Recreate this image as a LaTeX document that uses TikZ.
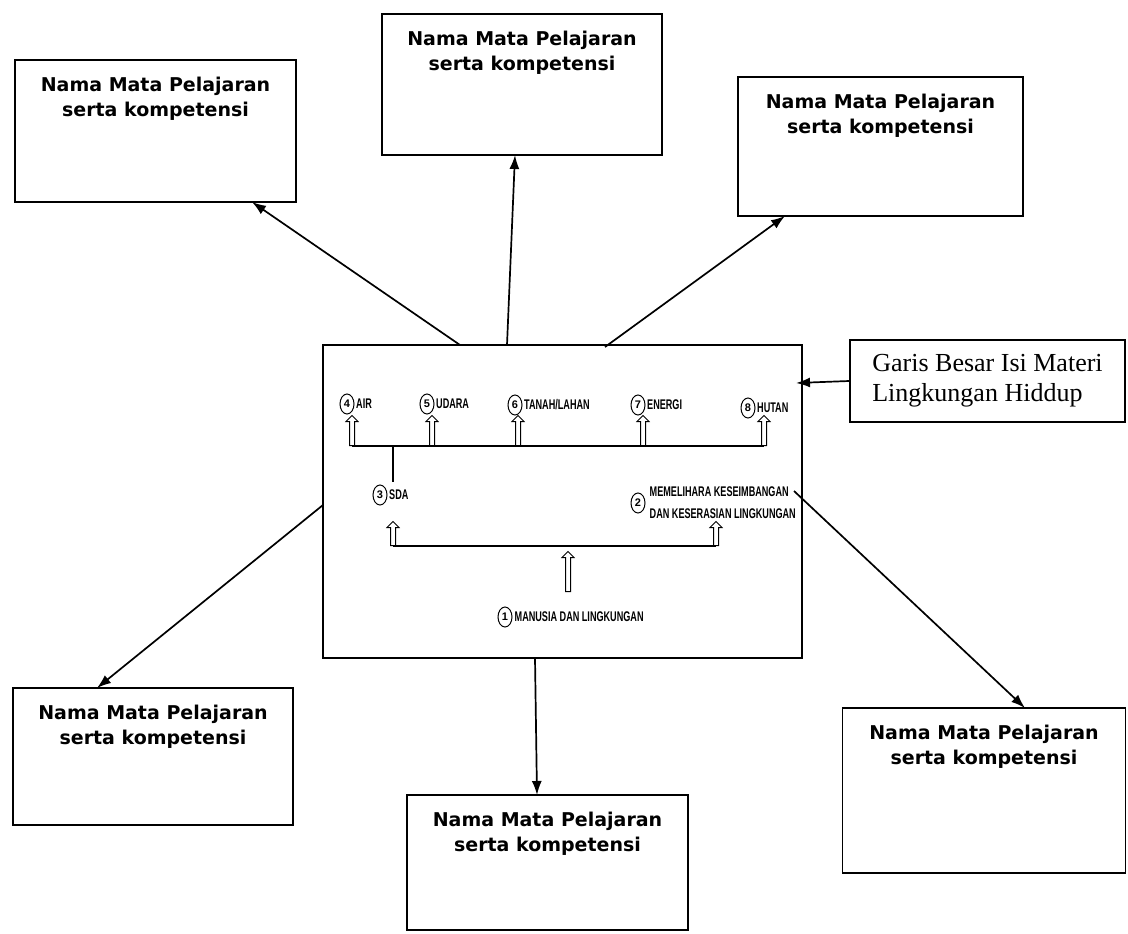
\documentclass[tikz,border=0pt]{standalone}
\usepackage{fontspec}
\setmainfont{Liberation Serif}
\newfontfamily\boxfont{DejaVu Sans}
\newfontfamily\lblfont{Liberation Sans}
\usetikzlibrary{arrows.meta,shapes.geometric,shapes.arrows,calc}
\newcommand{\cond}[1]{\scalebox{0.65}[1]{#1}}
\begin{document}
\begin{tikzpicture}[x=1pt,y=-1pt,
 mbox/.style={draw, line width=1.7pt, inner sep=0pt},
 ttl/.style={font=\boxfont\bfseries\fontsize{19}{25}\selectfont, align=center, anchor=north, inner sep=0pt},
 arr/.style={line width=1.7pt, -{Latex[length=14pt,width=10pt]}},
 num/.style={ellipse, draw, line width=1pt, inner sep=0.3pt, minimum width=14pt, minimum height=20pt, font=\lblfont\bfseries\fontsize{11}{11}\selectfont},
 lbl/.style={anchor=west, inner sep=0pt, font=\lblfont\bfseries\fontsize{14}{22}\selectfont, align=left},
 hol/.style={single arrow, draw, line width=1pt, shape border rotate=90, inner sep=2pt, single arrow head extend=3.5pt, anchor=tail},
 bus/.style={line width=1.6pt}
]
\useasboundingbox (0,0) rectangle (1128,934);
\fill[white] (0,0) rectangle (1128,934);

% outer boxes
\node[mbox, minimum width=281pt, minimum height=142pt] (tl) at (155.5,131) {};
\node[ttl] (tlt) at ($(tl.north)+(0,18)$) {Nama Mata Pelajaran\\serta kompetensi};
\node[mbox, minimum width=280pt, minimum height=141pt] (tc) at (522,84.5) {};
\node[ttl] (tct) at ($(tc.north)+(0,18)$) {Nama Mata Pelajaran\\serta kompetensi};
\node[mbox, minimum width=285pt, minimum height=139pt] (tr) at (880.5,146.5) {};
\node[ttl] (trt) at ($(tr.north)+(0,18)$) {Nama Mata Pelajaran\\serta kompetensi};
\node[mbox, minimum width=280pt, minimum height=137pt] (bl) at (153,756.5) {};
\node[ttl] (blt) at ($(bl.north)+(0,18)$) {Nama Mata Pelajaran\\serta kompetensi};
\node[mbox, minimum width=281pt, minimum height=135pt] (bc) at (547.5,862.5) {};
\node[ttl] (bct) at ($(bc.north)+(0,18)$) {Nama Mata Pelajaran\\serta kompetensi};
\node[mbox, minimum width=283pt, minimum height=165pt] (br) at (984,790.5) {};
\node[ttl] (brt) at ($(br.north)+(0,18)$) {Nama Mata Pelajaran\\serta kompetensi};

% central box
\node[mbox, minimum width=479pt, minimum height=313pt] (c) at (562.5,501.5) {};

% legend box
\node[mbox, minimum width=275pt, minimum height=82pt, align=left,
      font=\fontsize{26}{30}\selectfont] (g) at (987.5,381) {Garis Besar Isi Materi\\Lingkungan Hiddup};

% arrows from central box
\coordinate (s1) at (460,345); \coordinate (e1) at (252,202);
\coordinate (s2) at (507,345); \coordinate (e2) at (515,155);
\coordinate (s3) at (605,347); \coordinate (e3) at (785,216);
\coordinate (s4) at (323,505); \coordinate (e4) at (97,688);
\coordinate (s5) at (535,658); \coordinate (e5) at (537,795);
\coordinate (s6) at (794,491); \coordinate (e6) at (1025,708);
\coordinate (e7) at (796,383);
\draw[arr] (s1) -- (e1);
\draw[arr] (s2) -- (e2);
\draw[arr] (s3) -- (e3);
\draw[arr] (s4) -- (e4);
\draw[arr] (s5) -- (e5);
\draw[arr] (s6) -- (e6);
\draw[arr] (g.west) -- (e7);

% inner labels
\node[num] (n4) at (347,404) {4};
\node[lbl] (t4) at ($(n4.east)+(1.5,0)$) {\cond{AIR}};
\node[num] (n5) at (427,404) {5};
\node[lbl] (t5) at ($(n5.east)+(1.5,0)$) {\cond{UDARA}};
\node[num] (n6) at (515,405) {6};
\node[lbl] (t6) at ($(n6.east)+(1.5,0)$) {\cond{TANAH/LAHAN}};
\node[num] (n7) at (638,405) {7};
\node[lbl] (t7) at ($(n7.east)+(1.5,0)$) {\cond{ENERGI}};
\node[num] (n8) at (748,408) {8};
\node[lbl] (t8) at ($(n8.east)+(1.5,0)$) {\cond{HUTAN}};
\node[num] (n3) at (380,495) {3};
\node[lbl] (t3) at ($(n3.east)+(1.5,0)$) {\cond{SDA}};
\node[num] (n2) at (638,503) {2};
\node[lbl] (t2) at ($(n2.east)+(4,0)$) {\cond{MEMELIHARA KESEIMBANGAN}\\\cond{DAN KESERASIAN LINGKUNGAN}};
\node[num] (n1) at (505,617) {1};
\node[lbl] (t1) at ($(n1.east)+(2,0)$) {\cond{MANUSIA DAN LINGKUNGAN}};

% upper bus
\coordinate (b1a) at (352,446); \coordinate (b1b) at (432,446);
\coordinate (b1c) at (518,446); \coordinate (b1d) at (643,446);
\coordinate (b1e) at (764,446); \coordinate (b1s) at (393,446);
\coordinate (b1x) at (393,482);
\draw[bus] (b1a) -- (b1e);
\draw[bus] (b1s) -- (b1x);
\foreach \p in {b1a,b1b,b1c,b1d,b1e}
  \node[hol, minimum height=30pt] at (\p) {};

% lower bus
\coordinate (b2a) at (393,546); \coordinate (b2b) at (716,546);
\coordinate (b2m) at (568,592);
\draw[bus] (b2a) -- (b2b);
\node[hol, minimum height=24pt] (h3) at (b2a) {};
\node[hol, minimum height=24pt] (h2) at (b2b) {};
\node[hol, minimum height=40pt] (h1) at (b2m) {};
\end{tikzpicture}
\end{document}
